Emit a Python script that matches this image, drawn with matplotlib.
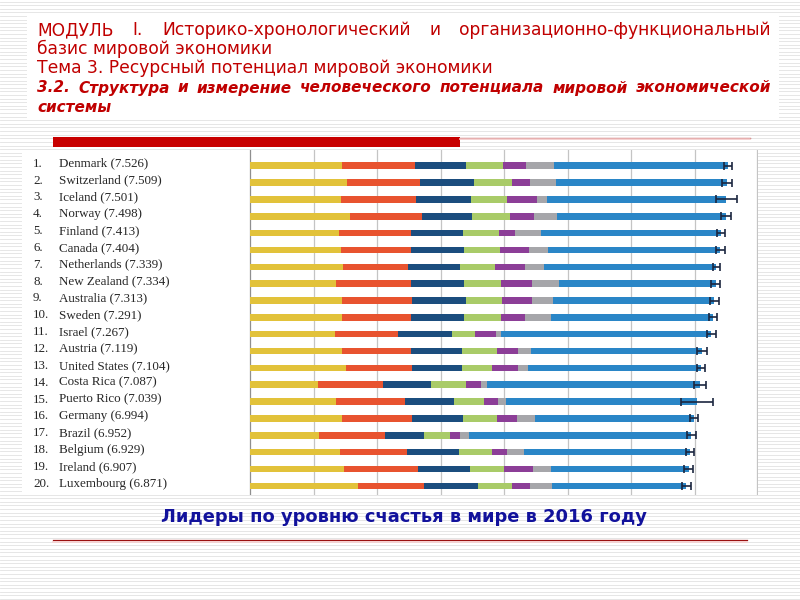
import matplotlib
matplotlib.use('Agg')
import matplotlib.pyplot as plt
import numpy as np
from matplotlib.patches import Rectangle

# ---------------- data ----------------
countries = ["Denmark", "Switzerland", "Iceland", "Norway", "Finland", "Canada",
             "Netherlands", "New Zealand", "Australia", "Sweden", "Israel", "Austria",
             "United States", "Costa Rica", "Puerto Rico", "Germany", "Brazil",
             "Belgium", "Ireland", "Luxembourg"]
scores = [7.526, 7.509, 7.501, 7.498, 7.413, 7.404, 7.339, 7.334, 7.313, 7.291,
          7.267, 7.119, 7.104, 7.087, 7.039, 6.994, 6.952, 6.929, 6.907, 6.871]
ci_low = [7.460, 7.428, 7.333, 7.421, 7.351, 7.335, 7.284, 7.264, 7.241, 7.227,
          7.199, 7.045, 7.047, 6.999, 6.794, 6.930, 6.875, 6.861, 6.836, 6.799]
ci_high = [7.592, 7.590, 7.669, 7.575, 7.475, 7.473, 7.394, 7.404, 7.385, 7.355,
           7.335, 7.193, 7.161, 7.175, 7.284, 7.058, 7.029, 6.997, 6.978, 6.943]
gdp = [1.442, 1.527, 1.427, 1.577, 1.406, 1.440, 1.465, 1.361, 1.444, 1.452,
       1.338, 1.450, 1.508, 1.069, 1.359, 1.448, 1.088, 1.425, 1.483, 1.698]
social = [1.164, 1.145, 1.183, 1.127, 1.135, 1.096, 1.029, 1.173, 1.105, 1.088,
          0.995, 1.084, 1.048, 1.022, 1.081, 1.098, 1.039, 1.052, 1.162, 1.040]
health = [0.795, 0.863, 0.867, 0.796, 0.811, 0.828, 0.812, 0.831, 0.851, 0.831,
          0.849, 0.806, 0.779, 0.761, 0.778, 0.815, 0.614, 0.820, 0.815, 0.845]
freedom = [0.579, 0.586, 0.566, 0.596, 0.571, 0.574, 0.552, 0.581, 0.568, 0.582,
           0.364, 0.544, 0.482, 0.552, 0.468, 0.535, 0.404, 0.514, 0.540, 0.549]
generosity = [0.362, 0.281, 0.477, 0.379, 0.255, 0.448, 0.474, 0.494, 0.474, 0.383,
              0.323, 0.329, 0.411, 0.226, 0.222, 0.305, 0.158, 0.242, 0.450, 0.276]
corruption = [0.445, 0.412, 0.150, 0.358, 0.410, 0.313, 0.299, 0.419, 0.323, 0.409,
              0.087, 0.213, 0.149, 0.105, 0.123, 0.286, 0.142, 0.262, 0.298, 0.353]
dystopia = [2.739, 2.695, 2.831, 2.665, 2.826, 2.705, 2.707, 2.476, 2.547, 2.547,
            3.310, 2.693, 2.728, 3.352, 3.006, 2.509, 3.507, 2.614, 2.160, 2.108]

segments = [gdp, social, health, freedom, generosity, corruption, dystopia]
seg_colors = ["#E2C23A", "#E8532F", "#1B4D7E", "#A9CB68", "#8C3E97", "#A6A6AA", "#2A86C7"]

title_line1 = ["МОДУЛЬ", "I.", "Историко-хронологический", "и", "организационно-функциональный"]
title_line2 = "базис мировой экономики"
title_line3 = "Тема 3. Ресурсный потенциал мировой экономики"
title_line4 = ["3.2.", "Структура", "и", "измерение", "человеческого", "потенциала",
               "мировой", "экономической"]
title_line5 = "системы"
caption = "Лидеры по уровню счастья в мире в 2016 году"

# ---------------- figure ----------------
W, H = 800, 600
fig = plt.figure(figsize=(8, 6), dpi=100)
fig.patch.set_facecolor("white")
bg = fig.add_axes([0, 0, 1, 1])
bg.set_xlim(0, W)
bg.set_ylim(H, 0)
bg.axis("off")

# striped slide background
for yy in np.arange(1.5, H, 3.6):
    bg.plot([0, W], [yy, yy], color="#e2e2e2", lw=0.6, zorder=0)

# title box
bg.add_patch(Rectangle((27, 14), 752, 105, facecolor="white", edgecolor="none", zorder=1))
# chart area
bg.add_patch(Rectangle((22, 150), 736, 345, facecolor="white", edgecolor="none", zorder=1))

# red bar and lines
bg.add_patch(Rectangle((53, 137), 407, 10, facecolor="#C80000", edgecolor="none", zorder=2))
bg.plot([460, 750], [137.5, 137.5], color="#9a1010", lw=0.9, zorder=2)
bg.plot([460, 750], [139.3, 139.3], color="#f6d0d0", lw=1.2, zorder=2)
bg.plot([53, 747], [540, 540], color="#9a1010", lw=0.9, zorder=2)
bg.plot([53, 747], [541.8, 541.8], color="#f6d0d0", lw=1.2, zorder=2)

fig.canvas.draw()
renderer = fig.canvas.get_renderer()

red = "#C00000"
tfs = 12.3


def justify(words, y, x0, x1, fontsize, min_gap=9, **kw):
    fs = fontsize
    while True:
        ts = [bg.text(0, y, w, va="center", ha="left", zorder=3, fontsize=fs, **kw)
              for w in words]
        widths = [t.get_window_extent(renderer).width for t in ts]
        gap = (x1 - x0 - sum(widths)) / (len(words) - 1)
        if gap >= min_gap or fs < 6:
            break
        for t in ts:
            t.remove()
        fs -= 0.1
    x = x0
    for t, w in zip(ts, widths):
        t.set_x(x)
        x += w + gap
    return fs


justify(title_line1, 30, 37, 771, tfs, color=red)
bg.text(37, 49, title_line2, color=red, fontsize=tfs, va="center", ha="left", zorder=3)
bg.text(37, 68, title_line3, color=red, fontsize=tfs, va="center", ha="left", zorder=3)
fs4 = justify(title_line4, 88, 37, 771, tfs, min_gap=8, color=red,
              fontweight="bold", style="italic")
bg.text(37, 107, title_line5, color=red, fontsize=fs4, fontweight="bold", style="italic",
        va="center", ha="left", zorder=3)

bg.text(404, 517, caption, color="#12129C", fontsize=12.9, fontweight="bold",
        va="center", ha="center", zorder=3)

# ---------------- chart ----------------
px_unit = 63.5
x0_px = 250
ax_left, ax_right, ax_top, ax_bot = 22, 758, 150, 495
row0, pitch = 165.7, 16.85
ax = fig.add_axes([ax_left / W, 1 - ax_bot / H, (ax_right - ax_left) / W, (ax_bot - ax_top) / H])
ax.set_facecolor("none")
ax.set_xlim(-(x0_px - ax_left) / px_unit, (ax_right - x0_px) / px_unit)
ax.set_ylim((ax_bot - row0) / pitch, (ax_top - row0) / pitch)
for s in ax.spines.values():
    s.set_visible(False)
ax.set_xticks([])
ax.set_yticks([])

for g in range(0, 8):
    ax.axvline(g, color="#8f8f8f" if g == 0 else "#c4c4c4", lw=0.9, zorder=1)
ax.axvline((757 - x0_px) / px_unit, color="#c4c4c4", lw=0.9, zorder=1)

y = np.arange(len(countries))
left = np.zeros(len(countries))
for vals, c in zip(segments, seg_colors):
    ax.barh(y, vals, left=left, height=0.39, color=c, edgecolor="none", zorder=2)
    left = left + np.array(vals)

sc = np.array(scores)
xerr = np.vstack([sc - np.array(ci_low), np.array(ci_high) - sc])
ax.errorbar(sc, y, xerr=xerr, fmt="none", ecolor="#1b2640", elinewidth=1.2,
            capsize=3.0, capthick=1.2, zorder=3)

lab_x_rank = -(x0_px - 33) / px_unit
lab_x_name = -(x0_px - 59) / px_unit
for i, (cn, s) in enumerate(zip(countries, scores)):
    ax.text(lab_x_rank, i - 0.12, f"{i + 1}.", fontsize=9.4, family="Liberation Serif",
            color="#262626", va="center", ha="left")
    ax.text(lab_x_name, i - 0.12, f"{cn} ({s:.3f})", fontsize=9.4, family="Liberation Serif",
            color="#262626", va="center", ha="left")

fig.savefig("out.png", dpi=100, facecolor="white")
